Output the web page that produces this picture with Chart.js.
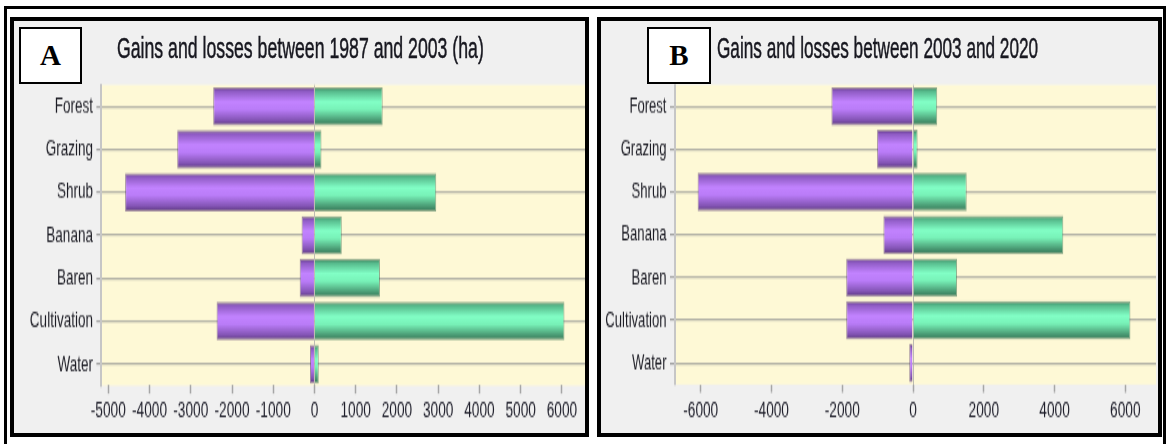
<!DOCTYPE html>
<html>
<head>
<meta charset="utf-8">
<script src="https://cdn.jsdelivr.net/npm/chart.js@4.4.1/dist/chart.umd.min.js"></script>
<style>
  html, body { margin: 0; padding: 0; background: #fff; }
  #page { position: relative; width: 1168px; height: 444px; overflow: hidden; background: #fff; }
  .outer { position: absolute; left: 4px; top: 6px; width: 1162px; height: 445px; border: 3px solid #000; border-bottom: none; box-sizing: border-box; }
  .panel { position: absolute; top: 17px; height: 420px; border: 4px solid #000; box-sizing: border-box; background: #f0f0f0; }
  .tag { position: absolute; top: 27px; height: 57px; border: 2px solid #000; box-sizing: border-box; background: #fff;
         display: flex; align-items: center; justify-content: center;
         font: bold 29px 'Liberation Serif', 'Times New Roman', serif; color: #000; z-index: 3; }
  .title { position: absolute; top: 31px; line-height: 20px; white-space: nowrap;
           font-family: 'Liberation Sans', Arial, sans-serif; color: #181820;
           -webkit-text-stroke: 0.3px #181820;
           transform: scaleY(1.7); transform-origin: 0 0; z-index: 2; }
  .plot { position: absolute; top: 21px; transform: scaleY(1.7); transform-origin: 0 0; }
  .plot canvas { display: block; }
</style>
</head>
<body>
<div id="page">
  <div class="outer"></div>

  <div class="panel" style="left:10px;width:579px;"></div>
  <div class="plot" style="left:14px;"><canvas id="chartA" width="571" height="242"></canvas></div>
  <div class="tag" style="left:19px;width:63px;">A</div>
  <div class="title" style="left:117px;font-size:17.7px;">Gains and losses between 1987 and 2003 (ha)</div>

  <div class="panel" style="left:597px;width:565px;"></div>
  <div class="plot" style="left:601px;"><canvas id="chartB" width="557" height="242"></canvas></div>
  <div class="tag" style="left:647px;width:64px;">B</div>
  <div class="title" style="left:717px;font-size:17.2px;">Gains and losses between 2003 and 2020</div>
</div>

<script>
// Land-cover classes (one row each)
const categories = ['Forest', 'Grazing', 'Shrub', 'Banana', 'Baren', 'Cultivation', 'Water'];

// 1987 -> 2003 (ha): losses are negative, gains positive
const lossesA = [-2456, -3329, -4592, -313, -359, -2374, -109];
const gainsA  = [1654, 170, 2953, 662, 1588, 6062, 104];

// 2003 -> 2020
const lossesB = [-2306, -1015, -6088, -837, -1888, -1888, -107];
const gainsB  = [684, 130, 1518, 4248, 1246, 6145, 0];

// x-axis tick labels
const ticksA = [-5000, -4000, -3000, -2000, -1000, 0, 1000, 2000, 3000, 4000, 5000, 6000];
const ticksB = [-6000, -4000, -2000, 0, 2000, 4000, 6000];

const FONT = "'Liberation Sans', Arial, sans-serif";
const BAR_PCT = 0.895;

// glossy cylinder-like shading across each bar's thickness
const purpleStops = [[0, '#5a3680'], [0.1, '#8d5ac2'], [0.38, '#c283ff'], [0.58, '#ba7cf8'], [0.86, '#8354b4'], [1, '#56337a']];
const greenStops  = [[0, '#367a58'], [0.1, '#55b88a'], [0.38, '#82ffc6'], [0.58, '#78f2b8'], [0.86, '#4a9b74'], [1, '#347455']];

function barFill(c, stops) {
  const chart = c.chart;
  const y = chart.scales.y;
  if (c.type !== 'data' || !y || !chart.chartArea) return stops[2][1];
  const band = (y.bottom - y.top) / chart.data.labels.length;
  const mid = y.getPixelForValue(c.dataIndex);
  const half = band * BAR_PCT / 2;
  const g = chart.ctx.createLinearGradient(0, mid - half, 0, mid + half);
  stops.forEach(([p, col]) => g.addColorStop(p, col));
  return g;
}

const plotBackground = {
  id: 'plotBackground',
  beforeDraw(chart) {
    const { ctx, chartArea: a } = chart;
    ctx.save();
    ctx.fillStyle = '#fef9d6';
    ctx.fillRect(a.left, a.top, a.right - a.left, a.bottom - a.top);
    ctx.restore();
  }
};

function makeChart(id, losses, gains, tickValues, xMin, xMax, axisWidth, labelSize, padRight, padBottom) {
  return new Chart(document.getElementById(id), {
    type: 'bar',
    data: {
      labels: categories,
      datasets: [
        { label: 'Loss', data: losses, backgroundColor: c => barFill(c, purpleStops),
          borderColor: 'rgba(80,45,110,0.55)', borderWidth: 1, borderSkipped: 'start' },
        { label: 'Gain', data: gains, backgroundColor: c => barFill(c, greenStops),
          borderColor: 'rgba(40,100,70,0.55)', borderWidth: 1, borderSkipped: 'start' }
      ]
    },
    options: {
      indexAxis: 'y',
      responsive: false,
      animation: false,
      devicePixelRatio: 1,
      datasets: { bar: { categoryPercentage: 1, barPercentage: BAR_PCT } },
      layout: { padding: { top: 37.6, left: 0, right: padRight, bottom: padBottom } },
      plugins: { legend: { display: false }, tooltip: { enabled: false }, title: { display: false } },
      scales: {
        x: {
          stacked: true,
          min: xMin,
          max: xMax,
          afterBuildTicks: s => { s.ticks = tickValues.map(v => ({ value: v })); },
          border: { display: false },
          grid: {
            drawOnChartArea: true,
            color: c => (c.tick && c.tick.value === 0) ? '#bdbcb2' : 'rgba(0,0,0,0)',
            lineWidth: 1,
            tickLength: 4.7,
            tickColor: '#a6a6a6',
            tickWidth: 1.5
          },
          ticks: {
            padding: 2,
            maxRotation: 0,
            autoSkip: false,
            color: '#1e1e2a',
            font: { family: FONT, size: 13.7 },
            callback: v => String(v)
          }
        },
        y: {
          stacked: true,
          afterFit: s => { s.width = axisWidth; },
          border: { display: true, color: '#c6c6c6', width: 2 },
          grid: {
            offset: false,
            color: '#b4b3a7',
            lineWidth: 1.2,
            tickLength: 5,
            tickColor: '#a2a2a2'
          },
          ticks: {
            padding: 3.5,
            color: '#1e1e26',
            font: { family: FONT, size: labelSize }
          }
        }
      }
    },
    plugins: [plotBackground]
  });
}

makeChart('chartA', lossesA, gainsA, ticksA, -5167, 6560, 87.4, 13.5, 0, 2.4);
makeChart('chartB', lossesB, gainsB, ticksB, -6727, 6868, 74, 13.1, 2, 3.0);
</script>
</body>
</html>
